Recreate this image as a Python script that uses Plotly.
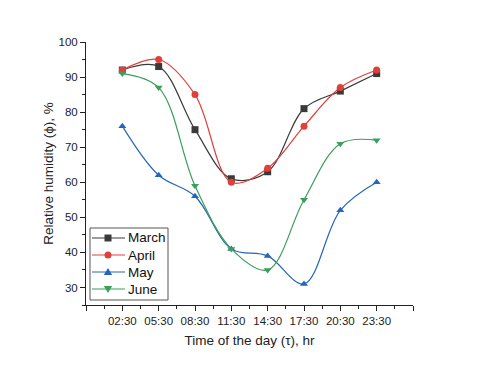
import plotly.graph_objects as go

# Data
times = ["02:30", "05:30", "08:30", "11:30", "14:30", "17:30", "20:30", "23:30"]
march = [92, 93, 75, 61, 63, 81, 86, 91]
april = [92, 95, 85, 60, 64, 76, 87, 92]
may = [76, 62, 56, 41, 39, 31, 52, 60]
june = [91, 87, 59, 41, 35, 55, 71, 72]

series = [
    ("March", march, "#3a3a3a", "square"),
    ("April", april, "#e0403c", "circle"),
    ("May", may, "#2466b8", "triangle-up"),
    ("June", june, "#3c9e5a", "triangle-down"),
]

xpos = list(range(len(times)))

fig = go.Figure()
for name, vals, color, sym in series:
    fig.add_trace(go.Scatter(
        x=xpos, y=vals, name=name, mode="lines+markers",
        line=dict(color=color, width=1.2, shape="spline", smoothing=1.0),
        marker=dict(symbol=sym, size=7, color=color),
        showlegend=False,
    ))

font = "Liberation Sans, Arial, sans-serif"

# plot area size in px (used to place the hand-drawn legend box)
PW, PH = 327, 263
def px(dx):
    return dx / PW
def py(dy):
    return dy / PH

# legend box, drawn by hand so the rows can be as tight as the original
shapes = [dict(type="rect", xref="paper", yref="paper",
               x0=px(4), x1=px(82), y0=py(5), y1=py(77),
               line=dict(color="#555", width=1), fillcolor="white", layer="above")]
annotations = []
row_y = [67, 50, 33, 16]
for (name, vals, color, sym), ry in zip(series, row_y):
    cy = py(ry)
    shapes.append(dict(type="line", xref="paper", yref="paper",
                       x0=px(6), x1=px(39), y0=cy, y1=cy,
                       line=dict(color=color, width=1.2), layer="above"))
    mx, r = 22, 3.5
    if sym == "square":
        shapes.append(dict(type="rect", xref="paper", yref="paper",
                           x0=px(mx - r), x1=px(mx + r), y0=py(ry - r), y1=py(ry + r),
                           line=dict(width=0), fillcolor=color, layer="above"))
    elif sym == "circle":
        shapes.append(dict(type="circle", xref="paper", yref="paper",
                           x0=px(mx - r), x1=px(mx + r), y0=py(ry - r), y1=py(ry + r),
                           line=dict(width=0), fillcolor=color, layer="above"))
    else:
        s = 1 if sym == "triangle-up" else -1
        path = (f"M {px(mx - 4.2)},{py(ry - 3 * s)} L {px(mx + 4.2)},{py(ry - 3 * s)} "
                f"L {px(mx)},{py(ry + 4 * s)} Z")
        shapes.append(dict(type="path", xref="paper", yref="paper", path=path,
                           line=dict(width=0), fillcolor=color, layer="above"))
    annotations.append(dict(text=name, xref="paper", yref="paper", x=px(40), y=cy,
                            xanchor="left", yanchor="middle", showarrow=False,
                            font=dict(size=13.5, family=font, color="#111")))

# page body has an 8px margin, so the figure is a bit smaller than the window
fig.update_layout(
    width=472, height=358,
    margin=dict(l=78, r=67, t=34, b=61),
    paper_bgcolor="white", plot_bgcolor="white",
    font=dict(family=font, color="#222"),
    shapes=shapes, annotations=annotations,
)

fig.update_xaxes(
    range=[-1, 8], automargin=False,
    tickvals=list(range(-1, 9)),
    ticktext=[""] + times + [""],
    ticks="outside", ticklen=5, tickcolor="#222",
    minor=dict(tickvals=[i + 0.5 for i in range(-1, 8)], ticks="outside", ticklen=3, tickcolor="#222"),
    showline=True, linecolor="#222", linewidth=1,
    showgrid=False, zeroline=False,
    tickfont=dict(size=11.5, family=font, color="#222"),
    title=dict(text="Time of the day (τ), hr", font=dict(size=13.5, family=font, color="#222"), standoff=9),
)

fig.update_yaxes(
    range=[25, 100], automargin=False,
    tickvals=[30, 40, 50, 60, 70, 80, 90, 100],
    ticks="outside", ticklen=5, tickcolor="#222",
    minor=dict(tickvals=[25, 35, 45, 55, 65, 75, 85, 95], ticks="outside", ticklen=3, tickcolor="#222"),
    showline=True, linecolor="#222", linewidth=1,
    showgrid=False, zeroline=False,
    tickfont=dict(size=11.5, family=font, color="#222"),
    title=dict(text="Relative humidity (ϕ), %", font=dict(size=13.5, family=font, color="#222"), standoff=1),
)

fig.write_html("out.html")
